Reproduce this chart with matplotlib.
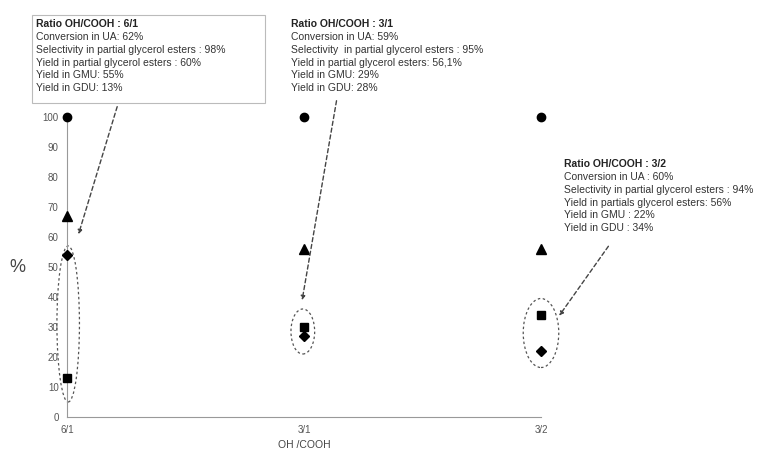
import numpy as np
import matplotlib.pyplot as plt
from matplotlib.patches import Ellipse

plt.rcParams['font.family'] = ['Liberation Sans', 'DejaVu Sans']

# ratios OH/COOH and measured values (%)
ratios = ["6/1", "3/1", "3/2"]
conversion = [100, 100, 100]
yield_pge = [67, 56, 56]
yield_gmu = [54, 27, 22]
yield_gdu = [13, 30, 34]

notes = [
    ["Ratio OH/COOH : 6/1", "Conversion in UA: 62%",
     "Selectivity in partial glycerol esters : 98%",
     "Yield in partial glycerol esters : 60%",
     "Yield in GMU: 55%", "Yield in GDU: 13%"],
    ["Ratio OH/COOH : 3/1", "Conversion in UA: 59%",
     "Selectivity  in partial glycerol esters : 95%",
     "Yield in partial glycerol esters: 56,1%",
     "Yield in GMU: 29%", "Yield in GDU: 28%"],
    ["Ratio OH/COOH : 3/2", "Conversion in UA : 60%",
     "Selectivity in partial glycerol esters : 94%",
     "Yield in partials glycerol esters: 56%",
     "Yield in GMU : 22%", "Yield in GDU : 34%"],
]

W, H = 773, 458
fig = plt.figure(figsize=(W / 100, H / 100), dpi=100)
ax = fig.add_axes([67 / W, 1 - 417 / H, (541 - 67) / W, 300 / H])

x = np.arange(len(ratios))
ax.plot(x, conversion, "o", color="black", ms=6, clip_on=False, zorder=3)
ax.plot(x, yield_pge, "^", color="black", ms=7, clip_on=False, zorder=3)
ax.plot(x, yield_gdu, "s", color="black", ms=6, clip_on=False, zorder=3)
ax.plot(x, yield_gmu, "D", color="black", ms=5, clip_on=False, zorder=3)

ax.set_xlim(0, 2)
ax.set_ylim(0, 100)
ax.set_xticks(x)
ax.set_xticklabels(ratios)
ax.set_yticks(range(0, 101, 10))
ax.tick_params(length=0, labelsize=7, colors="#555555", pad=6)
for s in ["top", "right"]:
    ax.spines[s].set_visible(False)
for s in ["left", "bottom"]:
    ax.spines[s].set_color("#999999")
    ax.spines[s].set_linewidth(0.8)
ax.set_xlabel("OH /COOH", fontsize=7.5, color="#444444", labelpad=3)
ax.set_ylabel("%", fontsize=13, color="#444444", rotation=0, labelpad=18, va="center")

# dashed ellipses round GMU/GDU (offset from each ratio position)
ell_dx = [0.005, -0.005, 0.0]
ell_cy = [31, 28.5, 28]
ell_w = [0.095, 0.1, 0.15]
ell_h = [52, 15, 23]
for i in range(len(ratios)):
    ax.add_patch(Ellipse((x[i] + ell_dx[i], ell_cy[i]), ell_w[i], ell_h[i],
                         fill=False, ls=(0, (2, 2)), lw=0.9, color="#555555",
                         clip_on=False, zorder=2))

# annotation boxes (top-left pixel of text) and arrow ends
text_pos = [(36, 19), (291, 19), (564, 159)]
arrow_from = [(118, 104), (337, 98), (610, 244)]
arrow_to = [(0.045, 60), (0.99, 38), (2.07, 33)]

for i, lines in enumerate(notes):
    tx, ty = text_pos[i]
    fig.text(tx / W, 1 - ty / H, lines[0], fontsize=7.5, weight="bold",
             va="top", ha="left", color="#222222")
    fig.text(tx / W, 1 - (ty + 13) / H, "\n".join(lines[1:]), fontsize=7.5,
             va="top", ha="left", color="#333333", linespacing=1.35)
    fx, fy = arrow_from[i]
    ax.annotate("", xy=arrow_to[i], xycoords="data",
                xytext=(fx / W, 1 - fy / H), textcoords="figure fraction",
                arrowprops=dict(arrowstyle="-|>", ls=(0, (3, 2)), lw=1.0,
                                color="#444444", mutation_scale=6),
                annotation_clip=False)

# border of the first box
fig.patches.append(plt.Rectangle((32 / W, 1 - 103 / H), 233 / W, 88 / H,
                                 transform=fig.transFigure, fill=False,
                                 ec="#bbbbbb", lw=0.8))

fig.savefig("out.png", dpi=100)
